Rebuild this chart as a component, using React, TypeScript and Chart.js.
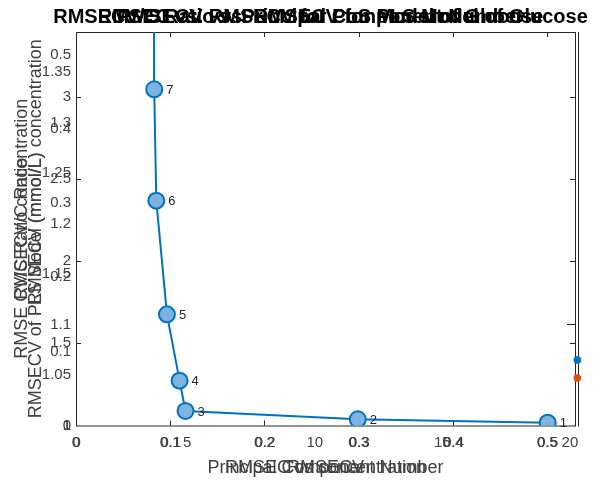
import { useEffect, useRef } from "react";
import { Chart, registerables } from "chart.js";

Chart.register(...registerables);

// ---- data ----
const pcNumbers = ["1", "2", "3", "4", "5", "6", "7", "8"];
const rmsecValues = [0.5005, 0.299, 0.1162, 0.1099, 0.0965, 0.0852, 0.083, 0.0828];
const rmsecvValues = [0.0038, 0.0084, 0.0196, 0.0605, 0.15, 0.3034, 0.4537, 0.62];
const edgeX = [0.532];
const edgeBlueY = [0.0884];
const edgeOrangeY = [0.0641];

const xTicksMain = [0, 0.1, 0.2, 0.3, 0.4, 0.5];
const xTickLabelsMain = ["0", "0.1", "0.2", "0.3", "0.4", "0.5"];
const xTicksPC = [5, 10, 15, 20];
const xTickLabelsPC = ["5", "10", "15", "20"];
const yTicksA = [0, 0.1, 0.2, 0.3, 0.4, 0.5];
const yTickLabelsA = ["0", "0.1", "0.2", "0.3", "0.4", "0.5"];
const yTicksB = [1, 1.05, 1.1, 1.15, 1.2, 1.25, 1.3, 1.35];
const yTickLabelsB = ["1", "1.05", "1.1", "1.15", "1.2", "1.25", "1.3", "1.35"];
const yTicksC = [1, 1.5, 2, 2.5, 3];
const yTickLabelsC = ["1", "1.5", "2", "2.5", "3"];

const titleTexts = [
  "RMSECV/C Ratio vs. RMSECV for PLS Model of Glucose",
  "RMSEC vs. RMSECV for PLS Model of Glucose",
  "RMSECV vs. Principal Component Number",
];
const xLabelTexts = ["Principal Component Number", "RMSECV", "RMSEC vs concentration"];
const yLabelTextsOuter = ["RMSECV/C Ratio", "RMSE CV/C Ratio concentration"];
const yLabelTextsInner = ["RMSECV (mmol/L)", "RMSECV of PLS Model (mmol/L) concentration"];

const INK = "#262626";
const LABEL_INK = "#404040";
const FONT = "'Liberation Sans', Arial, Helvetica, sans-serif";

const overlayPlugin = {
  id: "matlabOverlay",
  beforeDatasetsDraw(chart: any) {
    const ctx = chart.ctx;
    const { left, right, top, bottom } = chart.chartArea;
    const sx = chart.scales.x;
    const syC = chart.scales.yC;
    ctx.save();
    ctx.strokeStyle = INK;
    ctx.lineWidth = 1;
    ctx.strokeRect(left + 0.5, top + 0.5, right - left, bottom - top);
    ctx.beginPath();
    ctx.moveTo(right + 3.5, top);
    ctx.lineTo(right + 3.5, bottom + 1);
    ctx.stroke();
    const tl = 5;
    ctx.beginPath();
    xTicksMain.forEach((v) => {
      const px = Math.round(sx.getPixelForValue(v)) + 0.5;
      if (v === 0) return;
      ctx.moveTo(px, bottom);
      ctx.lineTo(px, bottom - tl);
      ctx.moveTo(px, top);
      ctx.lineTo(px, top + tl);
    });
    yTicksC.forEach((v) => {
      if (v === 1) return;
      const py = Math.round(syC.getPixelForValue(v)) + 0.5;
      ctx.moveTo(left, py);
      ctx.lineTo(left + tl, py);
      ctx.moveTo(right, py);
      ctx.lineTo(right - tl, py);
    });
    const syB = chart.scales.yB;
    const pyB = Math.round(syB.getPixelForValue(1.1)) + 0.5;
    ctx.moveTo(right, pyB);
    ctx.lineTo(right - 8, pyB);
    ctx.stroke();
    ctx.restore();
  },
  afterDatasetsDraw(chart: any) {
    const ctx = chart.ctx;
    const meta = chart.getDatasetMeta(0);
    ctx.save();
    ctx.fillStyle = INK;
    ctx.font = `13px ${FONT}`;
    ctx.textAlign = "left";
    ctx.textBaseline = "middle";
    meta.data.forEach((pt: any, i: number) => {
      if (i >= 7) return;
      ctx.fillText(pcNumbers[i], pt.x + 12, pt.y + 1);
    });
    ctx.restore();
  },
  afterDraw(chart: any) {
    const ctx = chart.ctx;
    const { left, right, top, bottom } = chart.chartArea;
    const sx = chart.scales.x;
    const sx2 = chart.scales.x2;
    const sy = chart.scales.y;
    const syB = chart.scales.yB;
    const syC = chart.scales.yC;
    const cx = (left + right) / 2;
    const cy = (top + bottom) / 2;
    ctx.save();
    ctx.fillStyle = LABEL_INK;
    ctx.font = `15px ${FONT}`;
    // x tick labels
    ctx.textAlign = "center";
    ctx.textBaseline = "top";
    [0, 0.6].forEach((off) => {
      xTicksMain.forEach((v, i) => {
        ctx.fillText(xTickLabelsMain[i], sx.getPixelForValue(v) + off, bottom + 10);
      });
    });
    xTicksPC.forEach((v, i) => {
      ctx.fillText(xTickLabelsPC[i], sx2.getPixelForValue(v), bottom + 10);
    });
    // y tick labels
    ctx.textAlign = "right";
    ctx.textBaseline = "middle";
    yTicksA.forEach((v, i) => {
      ctx.fillText(yTickLabelsA[i], left - 5, sy.getPixelForValue(v));
    });
    yTicksB.forEach((v, i) => {
      ctx.fillText(yTickLabelsB[i], left - 5, syB.getPixelForValue(v));
    });
    yTicksC.forEach((v, i) => {
      ctx.fillText(yTickLabelsC[i], left - 5, syC.getPixelForValue(v));
    });
    // x labels
    ctx.font = `18px ${FONT}`;
    ctx.textAlign = "center";
    ctx.textBaseline = "middle";
    xLabelTexts.forEach((t) => ctx.fillText(t, cx, 468));
    // y labels
    const drawRot = (t: string, x: number) => {
      ctx.save();
      ctx.translate(x, cy);
      ctx.rotate(-Math.PI / 2);
      ctx.fillText(t, 0, 0);
      ctx.restore();
    };
    yLabelTextsOuter.forEach((t) => drawRot(t, 22));
    yLabelTextsInner.forEach((t) => drawRot(t, 36));
    // titles
    ctx.fillStyle = "#000";
    ctx.font = `bold 20px ${FONT}`;
    titleTexts.forEach((t) => ctx.fillText(t, cx - 5, 17));
    ctx.restore();
  },
};

export default function App() {
  const ref = useRef<HTMLCanvasElement | null>(null);
  useEffect(() => {
    if (!ref.current) return;
    const mainPts = rmsecValues.map((x, i) => ({ x, y: rmsecvValues[i] }));
    const chart = new Chart(ref.current, {
      type: "scatter",
      data: {
        datasets: [
          {
            label: "RMSECV",
            data: mainPts,
            showLine: true,
            borderColor: "#0072BD",
            borderWidth: 2,
            pointRadius: rmsecValues.map((_, i) => (i < 7 ? 8 : 0)),
            pointBackgroundColor: "#7DB3E0",
            pointBorderColor: "#0072BD",
            pointBorderWidth: 2,
            xAxisID: "x",
            yAxisID: "y",
          },
          {
            label: "edge blue",
            data: edgeX.map((x, i) => ({ x, y: edgeBlueY[i] })),
            showLine: false,
            pointRadius: 3.5,
            pointBackgroundColor: "#0072BD",
            pointBorderColor: "#0072BD",
            clip: false as any,
            xAxisID: "x",
            yAxisID: "y",
          },
          {
            label: "edge orange",
            data: edgeX.map((x, i) => ({ x, y: edgeOrangeY[i] })),
            showLine: false,
            pointRadius: 3.5,
            pointBackgroundColor: "#D95319",
            pointBorderColor: "#D95319",
            clip: false as any,
            xAxisID: "x",
            yAxisID: "y",
          },
        ],
      },
      options: {
        responsive: false,
        animation: false,
        layout: { padding: { left: 76, right: 29, top: 32, bottom: 54.5 } },
        plugins: { legend: { display: false }, tooltip: { enabled: false }, title: { display: false } },
        scales: {
          x: { type: "linear", display: false, min: 0, max: 0.5295 },
          x2: { type: "linear", display: false, min: 0.64, max: 20.2, position: "bottom" },
          y: { type: "linear", display: false, min: 0, max: 0.531 },
          yB: { type: "linear", display: false, min: 1, max: 1.3896, position: "left" },
          yC: { type: "linear", display: false, min: 1, max: 3.395, position: "left" },
        },
      },
      plugins: [overlayPlugin],
    });
    return () => chart.destroy();
  }, []);
  return (
    <canvas
      ref={ref}
      width={604}
      height={480}
      style={{ position: "absolute", left: 0, top: 0, width: 604, height: 480, background: "#fff" }}
    />
  );
}
